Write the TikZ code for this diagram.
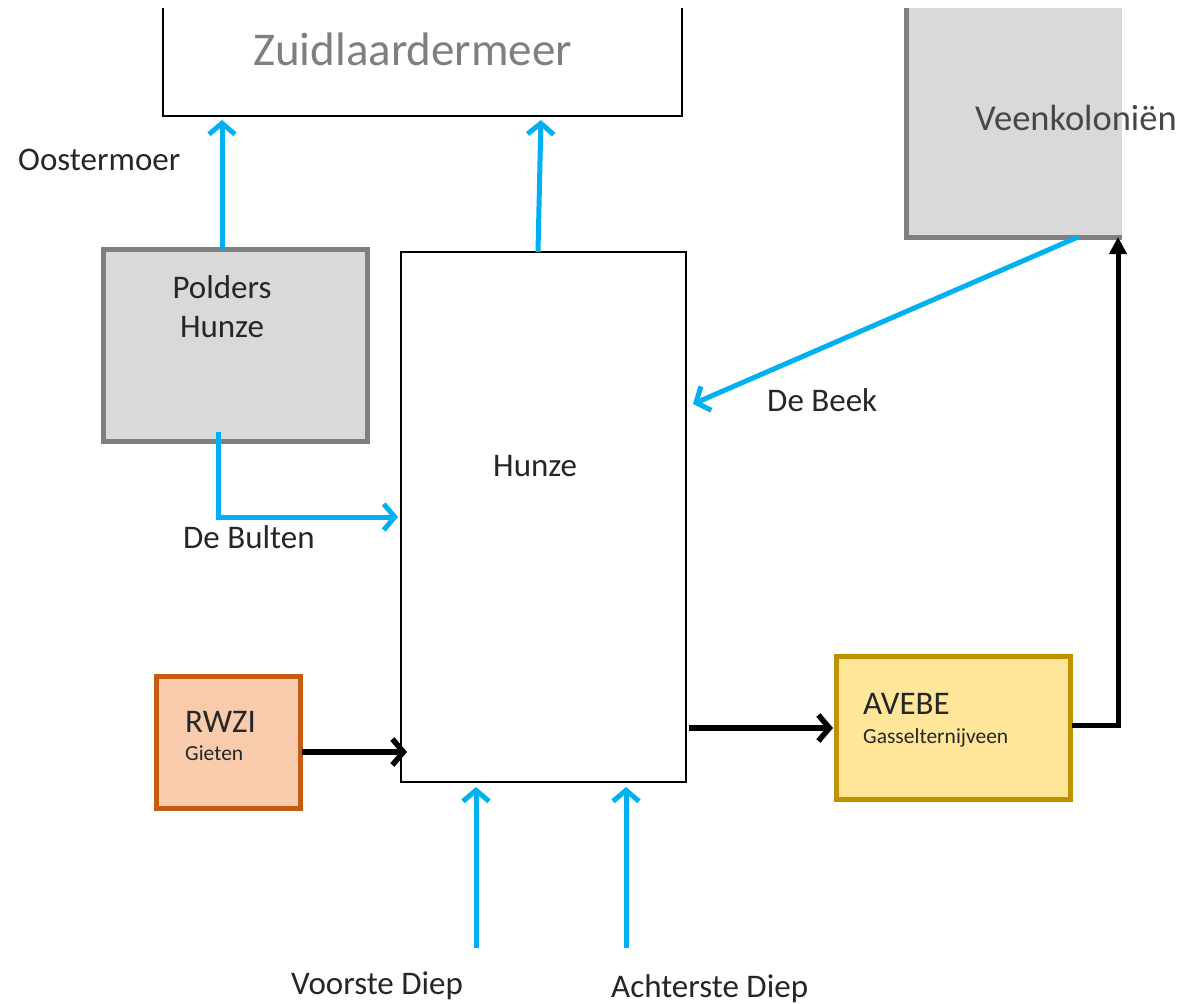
\documentclass[tikz,border=0pt]{standalone}
\usepackage{fontspec}
\setmainfont{Carlito}
\usetikzlibrary{arrows.meta}
\definecolor{blu}{RGB}{0,176,240}
\definecolor{grayfill}{RGB}{217,217,217}
\definecolor{grayline}{RGB}{127,127,127}
\definecolor{rwfill}{RGB}{248,203,173}
\definecolor{rwline}{RGB}{197,90,17}
\definecolor{avfill}{RGB}{255,230,153}
\definecolor{avline}{RGB}{191,144,0}
\definecolor{txt}{RGB}{38,38,38}
\tikzset{
  box/.style={inner sep=0pt, outer sep=0pt},
  graybox/.style={box, fill=grayfill, draw=grayline, line width=5pt},
  lbl/.style={anchor=base west, inner sep=0pt, text=txt, font=\fontsize{33}{36}\selectfont},
  small/.style={anchor=base west, inner sep=0pt, text=txt, font=\fontsize{21.5}{24}\selectfont},
  bluarrow/.style={draw=blu, line width=5pt, -{Straight Barb[length=11pt,width=26pt]}},
  blkarrow/.style={draw=black, line width=5.5pt, -{Straight Barb[length=11pt,width=26pt]}},
}
\begin{document}
\begin{tikzpicture}[x=1pt,y=-1pt]
\useasboundingbox (0,0) rectangle (1189,1004);

% boxes
\node[box, minimum width=519pt, minimum height=108pt] (zuid) at (422.5,62) {};
\draw[line width=2.2pt, black] (zuid.north west) |- (zuid.south east) -- (zuid.north east);
\node[box, fill=grayfill, minimum width=216pt, minimum height=229pt] (veen) at (1014,122.5) {};
\draw[line width=5pt, grayline] (veen.north west) |- (veen.south east);
\node[graybox, minimum width=264pt, minimum height=192pt] (polders) at (235,345) {};
\node[box, draw=black, line width=1.6pt, minimum width=285pt, minimum height=530pt] (hunze) at (543.5,517) {};
\node[box, fill=rwfill, draw=rwline, line width=5pt, minimum width=144pt, minimum height=132pt] (rwzi) at (228,742) {};
\node[box, fill=avfill, draw=avline, line width=5pt, minimum width=234pt, minimum height=143pt] (avebe) at (953,727.5) {};

% texts
\node[anchor=base west, inner sep=0pt, text=grayline, font=\fontsize{47}{50}\selectfont] (tzuid) at (253,65) {Zuidlaardermeer};
\node[anchor=base west, inner sep=0pt, text=black!72, font=\fontsize{36.5}{40}\selectfont] (tveen) at (975,130) {Veenkoloniën};
\node[lbl] (toost) at (18,170) {Oostermoer};
\node[lbl, anchor=base] (tpold1) at (222,298) {Polders};
\node[lbl, anchor=base] (tpold2) at (222,337) {Hunze};
\node[lbl] (thunze) at (493,476) {Hunze};
\node[lbl] (tbeek) at (767,411) {De Beek};
\node[lbl] (tbult) at (183,548) {De Bulten};
\node[lbl] (trwzi) at (185,732) {RWZI};
\node[small] (tgiet) at (185,760) {Gieten};
\node[lbl] (tavebe) at (863,714) {AVEBE};
\node[small] (tgass) at (863,743) {Gasselternijveen};
\node[lbl] (tvoor) at (291,994) {Voorste Diep};
\node[lbl] (tacht) at (611,997) {Achterste Diep};

% guide coordinates
\coordinate (oostx) at (222,0);
\coordinate (h1) at (538,0);
\coordinate (h2) at (541,0);
\coordinate (beekx) at (1078,0);
\coordinate (beekend) at (693,404);
\coordinate (bultstart) at (218,432);
\coordinate (rwy) at (0,752);
\coordinate (avy) at (0,728);
\coordinate (av2) at (0,725);
\coordinate (vx) at (1118,0);
\coordinate (vd) at (476,948);
\coordinate (ad) at (626,948);

% blue connectors
\draw[bluarrow, shorten >=4pt] (polders.north -| oostx) -- (zuid.south -| oostx);
\draw[bluarrow, shorten >=4pt] (hunze.north -| h1) -- (zuid.south -| h2);
\draw[bluarrow] (veen.south -| beekx) -- (beekend);
\draw[bluarrow, shorten >=3pt] (bultstart) |- (hunze.west);
\draw[bluarrow, shorten >=5pt] (vd) -- (hunze.south -| vd);
\draw[bluarrow, shorten >=5pt] (ad) -- (hunze.south -| ad);

% black connectors
\draw[blkarrow, shorten <=2pt, shorten >=-6pt] (rwzi.east |- rwy) -- (hunze.west |- rwy);
\draw[blkarrow, shorten <=3pt, shorten >=3pt] (hunze.east |- avy) -- (avebe.west |- avy);
\draw[draw=black, line width=5pt, -{Triangle[length=17pt,width=17pt]}, shorten <=2pt] (avebe.east |- av2) -| (veen.south -| vx);
\end{tikzpicture}
\end{document}
